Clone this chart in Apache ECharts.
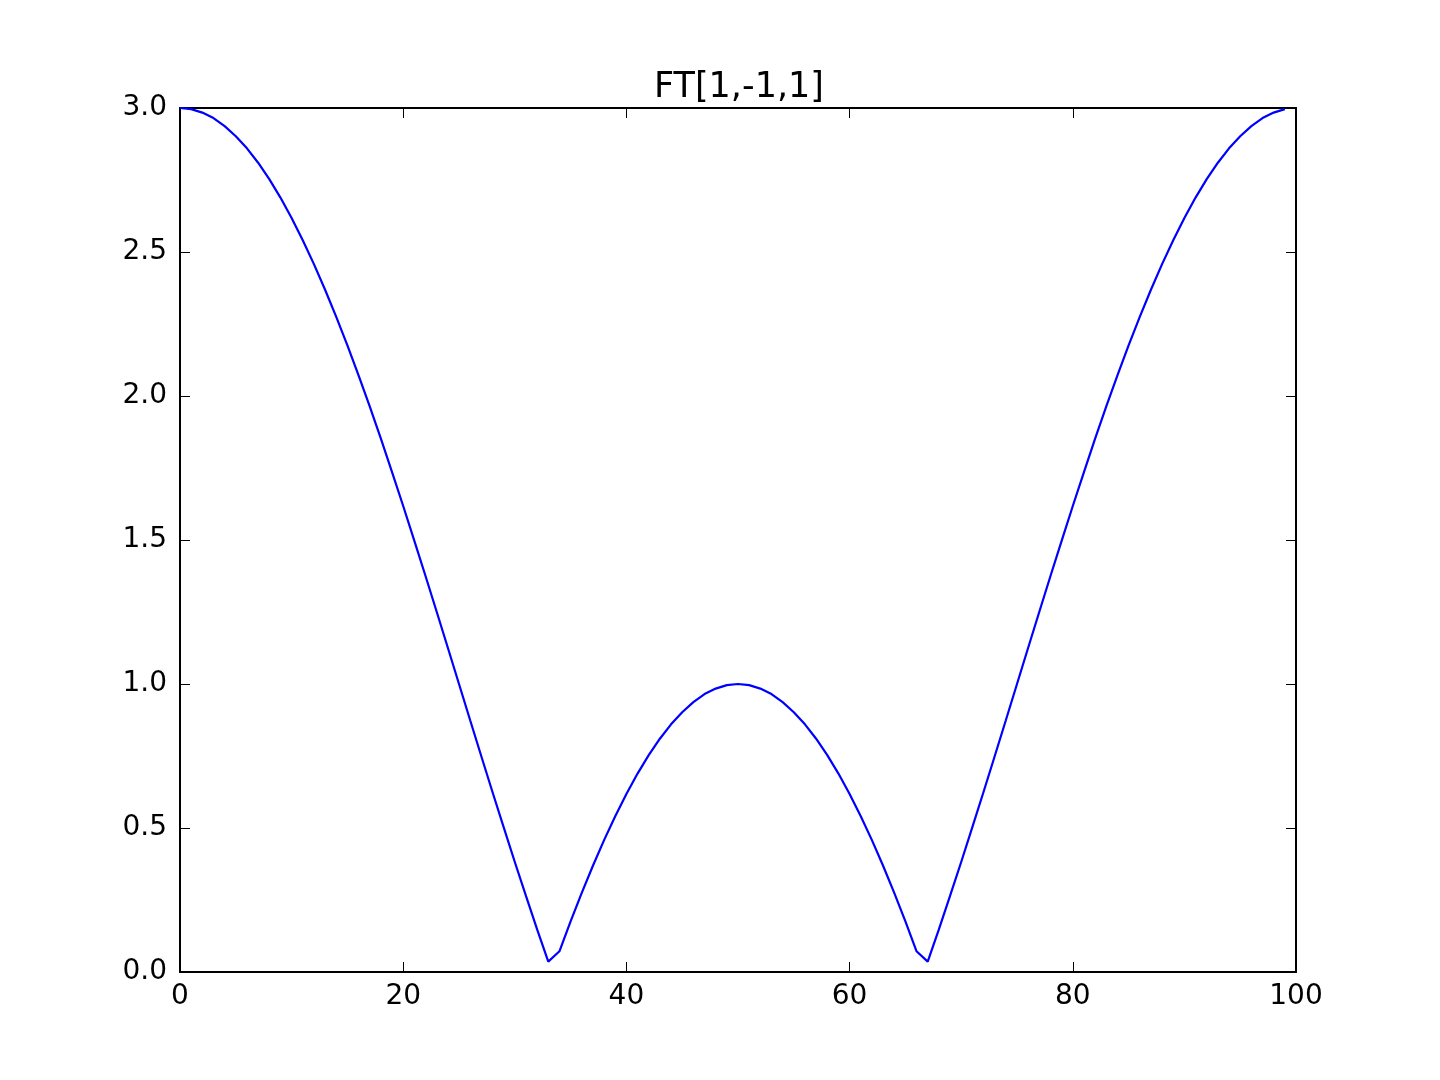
<!DOCTYPE html>
<html>
<head>
<meta charset="utf-8">
<script src="https://cdn.jsdelivr.net/npm/echarts@6/dist/echarts.min.js"></script>
<style>
html,body{margin:0;padding:0;background:#fff;}
#chart{width:1440px;height:1080px;}
</style>
</head>
<body>
<div id="chart"></div>
<script>
const titleText = "FT[1,-1,1]";
const xIndex = [];
for (let i = 0; i < 100; i++) xIndex.push(i);
const magnitude = [
3.000,2.996,2.984,2.965,2.937,2.902,2.860,2.810,2.753,2.689,
2.618,2.541,2.458,2.369,2.275,2.176,2.072,1.964,1.852,1.736,
1.618,1.497,1.375,1.251,1.126,1.000,0.874,0.749,0.625,0.503,
0.382,0.264,0.148,0.036,0.072,0.176,0.275,0.369,0.458,0.541,
0.618,0.689,0.753,0.810,0.860,0.902,0.937,0.965,0.984,0.996,
1.000,0.996,0.984,0.965,0.937,0.902,0.860,0.810,0.753,0.689,
0.618,0.541,0.458,0.369,0.275,0.176,0.072,0.036,0.148,0.264,
0.382,0.503,0.625,0.749,0.874,1.000,1.126,1.251,1.375,1.497,
1.618,1.736,1.852,1.964,2.072,2.176,2.275,2.369,2.458,2.541,
2.618,2.689,2.753,2.810,2.860,2.902,2.937,2.965,2.984,2.996
];
const xTicks = [0, 20, 40, 60, 80, 100];
const yTicks = [0.0, 0.5, 1.0, 1.5, 2.0, 2.5, 3.0];

const font = "DejaVu Sans";
const chart = echarts.init(document.getElementById('chart'), null, {renderer: 'canvas'});
const pts = xIndex.map((x, i) => [x, magnitude[i]]);
const axisLine = {show: true, onZero: false, lineStyle: {color: '#000', width: 2}};
const tick = {show: true, inside: true, length: 10, lineStyle: {color: '#000', width: 1}};
chart.setOption({
  animation: false,
  backgroundColor: '#fff',
  title: {
    text: titleText, left: 734, top: 65, textAlign: 'center',
    textStyle: {fontFamily: font, fontSize: 35, fontWeight: 'normal', color: '#000'}
  },
  grid: {left: 180, right: 144, top: 108, bottom: 108, containLabel: false},
  xAxis: [
    {type: 'value', min: 0, max: 100, interval: 20, position: 'bottom',
     axisLine, axisTick: tick, splitLine: {show: false},
     axisLabel: {fontFamily: font, fontSize: 28, color: '#000', margin: 11,
       formatter: v => xTicks.includes(v) ? String(v) : ''}},
    {type: 'value', min: 0, max: 100, interval: 20, position: 'top',
     axisLine, axisTick: tick, splitLine: {show: false}, axisLabel: {show: false}}
  ],
  yAxis: [
    {type: 'value', min: 0, max: 3, interval: 0.5, position: 'left',
     axisLine, axisTick: tick, splitLine: {show: false},
     axisLabel: {fontFamily: font, fontSize: 28, color: '#000', margin: 13,
       formatter: v => yTicks.includes(v) ? v.toFixed(1) : ''}},
    {type: 'value', min: 0, max: 3, interval: 0.5, position: 'right',
     axisLine, axisTick: tick, splitLine: {show: false}, axisLabel: {show: false}}
  ],
  series: [{
    type: 'line', data: pts, xAxisIndex: 0, yAxisIndex: 0,
    showSymbol: false, symbol: 'none', smooth: false,
    lineStyle: {color: '#0000ff', width: 2.2}
  }]
});
</script>
</body>
</html>
